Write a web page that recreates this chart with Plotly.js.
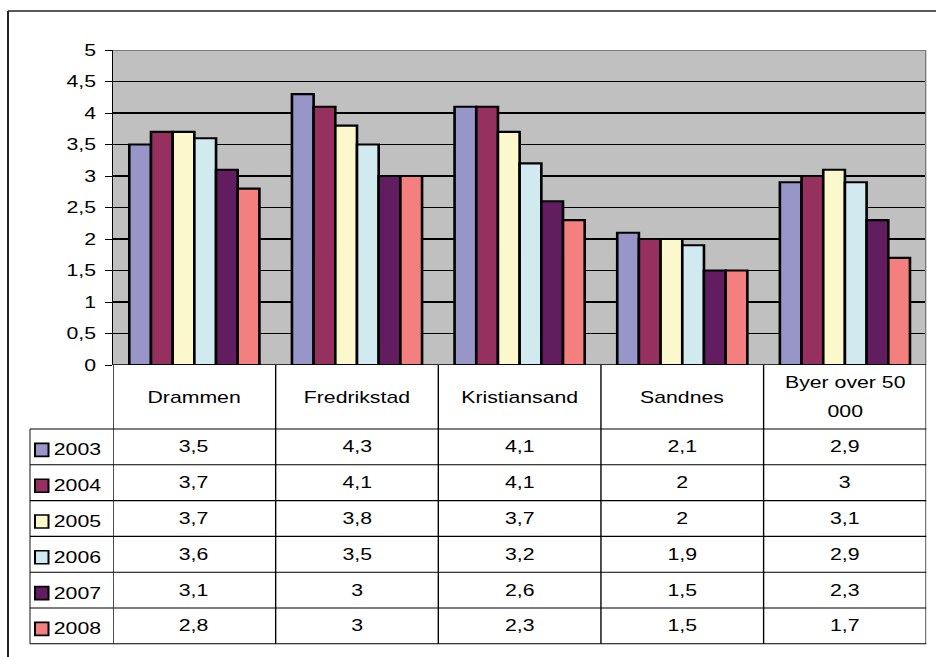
<!DOCTYPE html>
<html><head><meta charset="utf-8">
<script src="https://cdn.plot.ly/plotly-3.0.1.min.js"></script>
<style>
html,body{margin:0;padding:0;overflow:hidden;background:#fff;width:936px;height:657px}
#wrap{width:936px;height:657px;overflow:hidden;position:relative}
#chart{width:749px;height:657px;transform:scaleX(1.25);transform-origin:0 0}
</style></head><body><div id="wrap"><div id="chart"></div></div>
<script>
// ---- data ----
const categories = ['Drammen', 'Fredrikstad', 'Kristiansand', 'Sandnes', 'Byer over 50 000'];
const headerLines = [['Drammen'], ['Fredrikstad'], ['Kristiansand'], ['Sandnes'], ['Byer over 50', '000']];
const years = ['2003', '2004', '2005', '2006', '2007', '2008'];
const v2003 = [3.5, 4.3, 4.1, 2.1, 2.9];
const v2004 = [3.7, 4.1, 4.1, 2.0, 3.0];
const v2005 = [3.7, 3.8, 3.7, 2.0, 3.1];
const v2006 = [3.6, 3.5, 3.2, 1.9, 2.9];
const v2007 = [3.1, 3.0, 2.6, 1.5, 2.3];
const v2008 = [2.8, 3.0, 2.3, 1.5, 1.7];
const yTickVals = [0, 0.5, 1, 1.5, 2, 2.5, 3, 3.5, 4, 4.5, 5];
const yTickText = ['0', '0,5', '1', '1,5', '2', '2,5', '3', '3,5', '4', '4,5', '5'];

const series = [v2003, v2004, v2005, v2006, v2007, v2008];
const colors = ['#9896C8', '#96305F', '#FBF8CC', '#D0EAF0', '#621C60', '#F47F7F'];

// ---- geometry (pixels in the 936x657 picture) ----
const W = 936, H = 657;
const px = x => x / W;
const py = y => (H - y) / H;
const plotL = 113, plotR = 926, plotT = 50, plotB = 365;
const tableL = 30, headerB = 429, rowH = 35.8;
const nRows = years.length;
const tableB = headerB + rowH * nRows;
const fmt = v => String(v).replace('.', ',');

const traces = series.map((vals, i) => ({
  type: 'bar',
  name: years[i],
  x: categories,
  y: vals,
  marker: {color: colors[i], line: {color: '#000', width: 2.1}},
  showlegend: false,
  hoverinfo: 'skip'
}));

const shapes = [];
const annotations = [];
const blk = {color: '#000', width: 1.1};
const gray = {color: '#7a7a7a', width: 2};

// outer frame
shapes.push({type: 'line', xref: 'paper', yref: 'paper', x0: px(8), x1: px(8), y0: py(11), y1: py(670), line: {color: '#222', width: 1.6}});
shapes.push({type: 'line', xref: 'paper', yref: 'paper', x0: px(8), x1: px(950), y0: py(11), y1: py(11), line: {color: '#222', width: 1.6}});
// plot top border
shapes.push({type: 'line', xref: 'x', yref: 'y', x0: -0.5, x1: categories.length - 0.5, y0: 5, y1: 5, line: gray});
// right border through table
shapes.push({type: 'line', xref: 'x', yref: 'paper', x0: categories.length - 0.5, x1: categories.length - 0.5, y0: py(tableB), y1: py(plotT), line: gray});
// x axis line
shapes.push({type: 'line', xref: 'x', yref: 'y', x0: -0.5, x1: categories.length - 0.5, y0: 0, y1: 0, line: {color: '#000', width: 1.5}});
// column separators in table
for (let j = 0; j < categories.length; j++) {
  shapes.push({type: 'line', xref: 'x', yref: 'paper', x0: j - 0.5, x1: j - 0.5, y0: py(tableB), y1: py(plotB), line: blk});
}
// legend column left border
shapes.push({type: 'line', xref: 'paper', yref: 'paper', x0: px(tableL), x1: px(tableL), y0: py(tableB), y1: py(headerB), line: {color: '#808080', width: 1.5}});
// row lines
for (let r = 0; r <= nRows; r++) {
  const y = headerB + rowH * r;
  shapes.push({type: 'line', xref: 'paper', yref: 'paper', x0: px(tableL), x1: px(plotR), y0: py(y), y1: py(y), line: blk});
}
// header text
headerLines.forEach((lines, j) => {
  const c = (plotB + headerB) / 2;
  const n = lines.length;
  lines.forEach((t, k) => {
    const yy = c + (k - (n - 1) / 2) * 29;
    annotations.push({xref: 'x', yref: 'paper', x: categories[j], y: py(yy), text: t, showarrow: false, xanchor: 'center', yanchor: 'middle'});
  });
});
// data rows + legend keys
series.forEach((vals, i) => {
  const c = headerB + rowH * i + rowH / 2;
  vals.forEach((v, j) => {
    annotations.push({xref: 'x', yref: 'paper', x: categories[j], y: py(c), text: fmt(v), showarrow: false, xanchor: 'center', yanchor: 'middle'});
  });
  annotations.push({xref: 'paper', yref: 'paper', x: px(51), y: py(c + 3), text: years[i], showarrow: false, xanchor: 'left', yanchor: 'middle'});
  shapes.push({type: 'rect', xref: 'paper', yref: 'paper', x0: px(35), x1: px(48.5), y0: py(c + 3 - 6.5), y1: py(c + 3 + 6.5), fillcolor: colors[i], line: {color: '#000', width: 1.6}});
});

const layout = {
  width: 749, height: 657,
  margin: {l: 0, r: 0, t: 0, b: 0},
  paper_bgcolor: '#fff',
  plot_bgcolor: '#C0C0C0',
  separators: ', ',
  font: {family: 'Liberation Sans, Arial, sans-serif', size: 17, color: '#000'},
  barmode: 'group',
  bargap: 0.2,
  bargroupgap: 0,
  xaxis: {
    domain: [px(plotL), px(plotR)],
    type: 'category',
    range: [-0.5, categories.length - 0.5],
    showticklabels: false, ticks: '', showgrid: false, zeroline: false, showline: false, fixedrange: true
  },
  yaxis: {
    domain: [py(plotB), py(plotT)],
    range: [0, 5],
    tickvals: yTickVals, ticktext: yTickText,
    ticks: 'outside', ticklen: 5, tickcolor: '#000', tickwidth: 1,
    ticklabelstandoff: 4,
    showgrid: true, gridcolor: '#000', gridwidth: 1.1,
    showline: true, linecolor: '#000', linewidth: 1.2,
    zeroline: false, fixedrange: true,
    tickfont: {size: 17}
  },
  shapes: shapes,
  annotations: annotations
};

Plotly.newPlot('chart', traces, layout, {staticPlot: true, displayModeBar: false});
</script></body></html>
